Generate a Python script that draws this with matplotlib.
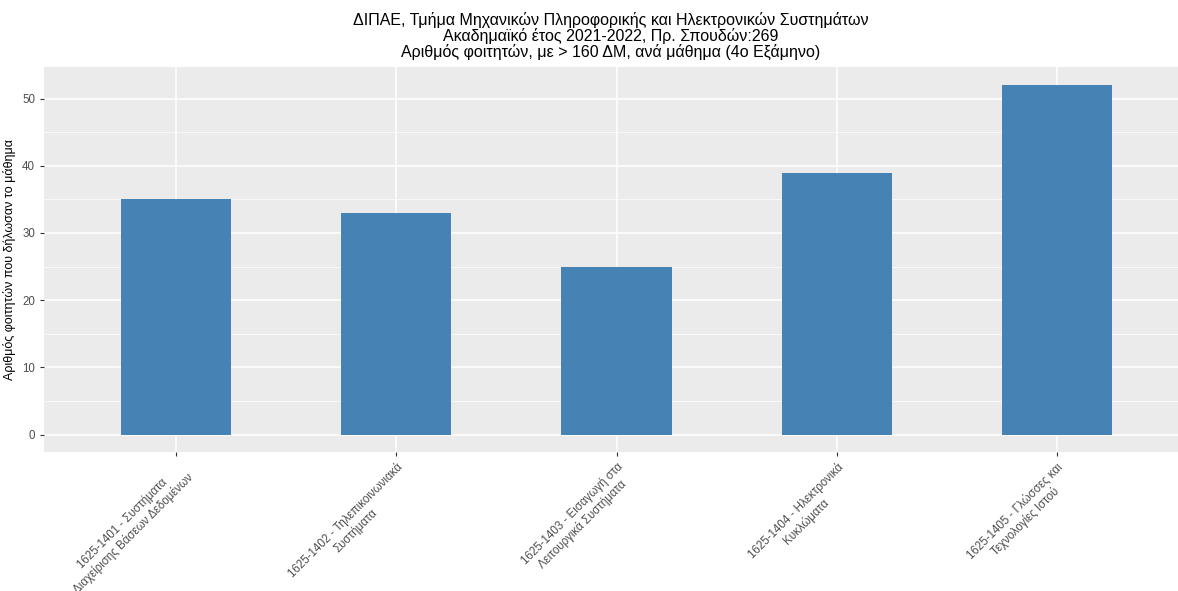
import matplotlib
matplotlib.use("Agg")
import numpy as np
import matplotlib.pyplot as plt

plt.rcParams['font.family'] = ['Liberation Sans', 'DejaVu Sans']

courses = ['1625-1401 - Συστήματα\nΔιαχείρισης Βάσεων Δεδομένων',
           '1625-1402 - Τηλεπικοινωνιακά\nΣυστήματα',
           '1625-1403 - Εισαγωγή στα\nΛειτουργικά Συστήματα',
           '1625-1404 - Ηλεκτρονικά\nΚυκλώματα',
           '1625-1405 - Γλώσσες και\nΤεχνολογίες Ιστού']
students = [35, 33, 25, 39, 52]

fig = plt.figure(figsize=(11.78, 5.91), dpi=100)
ax = fig.add_axes([0.0374, 0.2352, 0.9626, 0.6514])

index = np.arange(1, len(courses) + 1)
ax.set_facecolor('#EBEBEB')
ax.set_axisbelow(True)
ax.bar(index, students, 0.5, color='steelblue', zorder=3)

ax.set_xlim(0.4, 5.55)
ax.set_ylim(-2.6, 54.7)
ax.set_yticks([0, 10, 20, 30, 40, 50])
ax.set_yticks([5, 15, 25, 35, 45], minor=True)
ax.set_xticks(index)
ax.set_xticklabels(courses, rotation=45, ha='right', rotation_mode='anchor',
                   multialignment='center')
ax.grid(which='major', color='white', linewidth=1.1)
ax.grid(which='minor', axis='y', color='white', linewidth=0.5)
for s in ax.spines.values():
    s.set_visible(False)
ax.tick_params(which='major', colors='#333333', labelcolor='#4D4D4D',
               labelsize=8.3, length=3, width=0.8)
ax.tick_params(which='minor', length=0)

ax.set_ylabel('Αριθμός φοιτητών που δήλωσαν το μάθημα', fontsize=9)
ax.set_title('ΔΙΠΑΕ, Τμήμα Μηχανικών Πληροφορικής και Ηλεκτρονικών Συστημάτων\n'
             'Ακαδημαϊκό έτος 2021-2022, Πρ. Σπουδών:269\n'
             'Αριθμός φοιτητών, με > 160 ΔΜ, ανά μάθημα (4ο Εξάμηνο)',
             fontsize=11.5, linespacing=1.0, pad=7)

fig.savefig('out.png', dpi=100)
